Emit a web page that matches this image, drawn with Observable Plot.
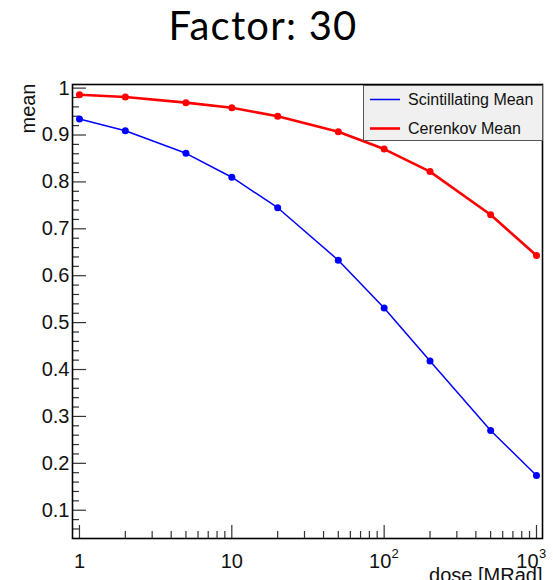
<!DOCTYPE html>
<html>
<head>
<meta charset="utf-8">
<script src="https://cdn.jsdelivr.net/npm/d3@7"></script>
<script src="https://cdn.jsdelivr.net/npm/@observablehq/plot@0.6"></script>
<style>
  html, body { margin: 0; padding: 0; background: #fff; }
  #chart { position: relative; width: 553px; height: 580px; overflow: hidden; }
  #chart > svg { display: block; }
  .title {
    position: absolute; left: 0; width: 526px; top: 3px; text-align: center;
    font-family: Lato, sans-serif; font-size: 40px; line-height: 44px; letter-spacing: 1.2px; color: #000;
  }
  .legend { position: absolute; left: 363px; top: 85px; }
</style>
</head>
<body>
<div id="chart"></div>
<script>
// Dose points (MRad) shared by both series
const dose = [1, 2, 5, 10, 20, 50, 100, 200, 500, 1000];
const scintillatingMean = [0.934, 0.909, 0.861, 0.810, 0.745, 0.633, 0.531, 0.418, 0.270, 0.174];
const cerenkovMean = [0.986, 0.981, 0.969, 0.958, 0.940, 0.907, 0.870, 0.822, 0.730, 0.643];

const seriesNames = ["Scintillating Mean", "Cerenkov Mean"];
const seriesColors = ["#0000ff", "#ff0000"];
const seriesWidths = [1.5, 2.6];

const titleText = "Factor: 30";
const xTitle = "dose [MRad]";
const yTitle = "mean";

// Axis ticks
const yMajor = [0.1, 0.2, 0.3, 0.4, 0.5, 0.6, 0.7, 0.8, 0.9, 1.0];
const yTickLabels = ["0.1", "0.2", "0.3", "0.4", "0.5", "0.6", "0.7", "0.8", "0.9", "1"];
const yMinor = d3.range(6, 100, 2).map(v => v / 100).filter(v => Math.round(v * 100) % 10 !== 0);
const xMajor = [1, 10, 100, 1000];
const xTickBase = ["1", "10", "10", "10"];
const xTickExp = ["", "", "2", "3"];
const xMinor = [1, 10, 100].flatMap(d => d3.range(2, 10).map(k => k * d));

const W = 553, H = 580;
const M = {top: 84, right: 11, bottom: 42, left: 72};
const frameW = W - M.left - M.right;
const frameH = H - M.top - M.bottom;

const rows = dose.flatMap((d, i) => [
  {dose: d, value: scintillatingMean[i], series: seriesNames[0]},
  {dose: d, value: cerenkovMean[i], series: seriesNames[1]}
]);

const font = "Liberation Sans, Arial, sans-serif";
const ink = "#111";

// x tick labels: plain ones, power-of-ten ones, and the last one nudged inward
const tickRows = xMajor.map((d, i) => ({d, base: xTickBase[i], exp: xTickExp[i], i}));
const lastIdx = xMajor.length - 1;
const plainLabels = tickRows.filter(t => !t.exp);
const powLabels = tickRows.filter(t => t.exp && t.i !== lastIdx);
const endLabels = tickRows.filter(t => t.exp && t.i === lastIdx);

const labelOpts = {frameAnchor: "bottom", textAnchor: "middle", lineAnchor: "middle", fill: ink};

const chart = Plot.plot({
  width: W,
  height: H,
  marginTop: M.top,
  marginRight: M.right,
  marginBottom: M.bottom,
  marginLeft: M.left,
  style: {fontFamily: font, background: "white", overflow: "visible"},
  x: {type: "log", domain: [0.9, 1095], axis: null},
  y: {domain: [0.0397, 1.0077], axis: null},
  marks: [
    // inward ticks on the left and bottom edges
    Plot.tickY(yMinor, {y: d => d, insetRight: frameW - 7, stroke: "#333", strokeWidth: 1.2}),
    Plot.tickY(yMajor, {y: d => d, insetRight: frameW - 14, stroke: "#333", strokeWidth: 1.2}),
    Plot.tickX(xMinor, {x: d => d, insetTop: frameH - 7, stroke: "#333", strokeWidth: 1.2}),
    Plot.tickX(xMajor, {x: d => d, insetTop: frameH - 13, stroke: "#333", strokeWidth: 1.2}),
    Plot.frame({stroke: "#000", strokeWidth: 1.6}),
    // series
    ...seriesNames.map((name, i) => Plot.line(rows.filter(r => r.series === name), {
      x: "dose", y: "value", stroke: seriesColors[i], strokeWidth: seriesWidths[i]
    })),
    ...seriesNames.map((name, i) => Plot.dot(rows.filter(r => r.series === name), {
      x: "dose", y: "value", r: 3.5, fill: seriesColors[i], stroke: "none"
    })),
    // y tick labels
    Plot.text(yMajor, {
      y: d => d, frameAnchor: "left", dx: -3, text: (d, i) => yTickLabels[i],
      textAnchor: "end", lineAnchor: "middle", fontSize: 20, fill: ink
    }),
    // x tick labels
    Plot.text(plainLabels, {...labelOpts, x: "d", text: "base", dy: 23, fontSize: 20}),
    Plot.text(powLabels, {...labelOpts, x: "d", text: "base", dy: 23, dx: -4, fontSize: 20}),
    Plot.text(powLabels, {...labelOpts, x: "d", text: "exp", dy: 15, dx: 11, fontSize: 13}),
    Plot.text(endLabels, {...labelOpts, x: "d", text: "base", dy: 23, dx: -9, fontSize: 20}),
    Plot.text(endLabels, {...labelOpts, x: "d", text: "exp", dy: 15, dx: 6, fontSize: 13}),
    // axis titles
    Plot.text([xTitle], {
      frameAnchor: "bottom-right", dy: 29, text: d => d,
      textAnchor: "end", lineAnchor: "top", fontSize: 20, fill: ink
    }),
    Plot.text([yTitle], {
      frameAnchor: "top-left", dx: -43.5, dy: -1, rotate: -90, text: d => d,
      textAnchor: "end", lineAnchor: "middle", fontSize: 20, fill: ink
    })
  ]
});

const root = document.getElementById("chart");
root.appendChild(chart);

// title above the frame
const title = document.createElement("div");
title.className = "title";
title.textContent = titleText;
root.appendChild(title);

// legend box in the upper right of the frame
const lw = 180, lh = 56, rowY = [14.5, 43.5];
const legend = d3.create("svg")
  .attr("class", "legend")
  .attr("width", lw)
  .attr("height", lh)
  .style("font-family", font)
  .style("font-size", "16px");
legend.append("rect")
  .attr("x", 0.5).attr("y", 0.5).attr("width", lw - 1).attr("height", lh - 1)
  .attr("fill", "#f0f0f0").attr("stroke", "#555").attr("stroke-width", 1);
seriesNames.forEach((name, i) => {
  legend.append("line")
    .attr("x1", 7).attr("x2", 37).attr("y1", rowY[i]).attr("y2", rowY[i])
    .attr("stroke", seriesColors[i]).attr("stroke-width", seriesWidths[i]);
  legend.append("text")
    .attr("x", 45).attr("y", rowY[i]).attr("dy", "0.35em")
    .attr("fill", ink).text(name);
});
root.appendChild(legend.node());
</script>
</body>
</html>
